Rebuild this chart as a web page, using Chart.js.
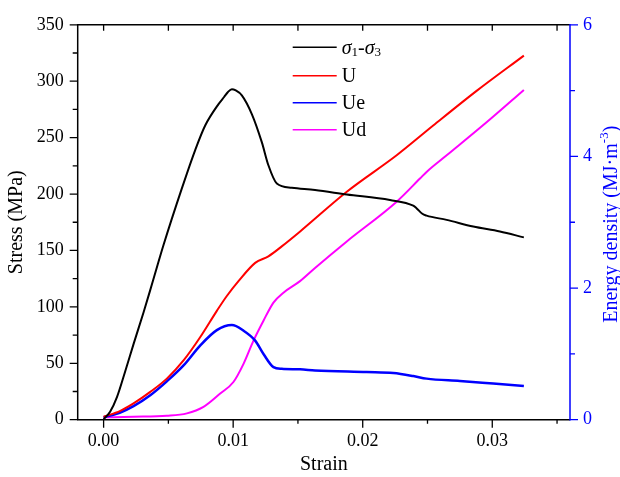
<!DOCTYPE html>
<html>
<head>
<meta charset="utf-8">
<script src="https://cdn.jsdelivr.net/npm/chart.js@4"></script>
<style>
html,body{margin:0;padding:0;background:#fff;}
#wrap{width:620px;height:477px;position:relative;}
canvas{display:block;}
</style>
</head>
<body>
<div id="wrap"><canvas id="c" width="620" height="477"></canvas></div>
<script>
// ---------- data ----------
const seriesLabels = ['σ₁-σ₃', 'U', 'Ue', 'Ud'];
const energyTitleMain = 'Energy density (MJ·m';
const energyTitleSup = '-3';
const energyTitleEnd = ')';

const stressStrain = [0, 0.0005, 0.00103, 0.00167, 0.00231, 0.00308, 0.00373, 0.00463, 0.00604, 0.00707, 0.00784, 0.00887, 0.0093, 0.0096, 0.0099, 0.0102, 0.01067, 0.01144, 0.01221, 0.01272, 0.01337, 0.01453, 0.01632, 0.01877, 0.0221, 0.0239, 0.02415, 0.0246, 0.02493, 0.02648, 0.02853, 0.03059, 0.03244];
const stressValues = [0.5, 7, 20, 43, 67, 95, 120, 155, 205, 239, 260.7, 279.7, 286, 290.5, 292.9, 291.8, 287.5, 270.9, 246, 225.5, 209.3, 205.5, 203.5, 199.6, 194.7, 189.7, 187.5, 182.5, 180.9, 177.1, 171.2, 166.8, 161.6];

const uStrain = [0, 0.00129, 0.00231, 0.0036, 0.00488, 0.00617, 0.00745, 0.00874, 0.00951, 0.01041, 0.0117, 0.01272, 0.01375, 0.01517, 0.01877, 0.02262, 0.02544, 0.02879, 0.03244];
const uValues = [0.045, 0.135, 0.247, 0.422, 0.624, 0.900, 1.252, 1.654, 1.879, 2.105, 2.383, 2.482, 2.633, 2.860, 3.463, 4.017, 4.469, 4.996, 5.532];

const ueStrain = [0, 0.00129, 0.00231, 0.0036, 0.00488, 0.00617, 0.00745, 0.00874, 0.0099, 0.0108, 0.0117, 0.01234, 0.01311, 0.01375, 0.01516, 0.01632, 0.02031, 0.02236, 0.0239, 0.02493, 0.0275, 0.03007, 0.03244];
const ueValues = [0.036, 0.110, 0.206, 0.372, 0.583, 0.825, 1.126, 1.361, 1.437, 1.353, 1.202, 0.999, 0.799, 0.773, 0.765, 0.749, 0.723, 0.708, 0.663, 0.624, 0.588, 0.549, 0.513];

const udStrain = [0, 0.00231, 0.00488, 0.00643, 0.00771, 0.009, 0.01002, 0.0108, 0.01157, 0.01234, 0.01311, 0.01388, 0.01516, 0.01632, 0.01877, 0.02262, 0.02442, 0.02493, 0.02648, 0.02956, 0.03244];
const udValues = [0.036, 0.045, 0.060, 0.096, 0.195, 0.398, 0.573, 0.849, 1.202, 1.504, 1.780, 1.930, 2.105, 2.306, 2.709, 3.312, 3.664, 3.765, 4.017, 4.519, 5.011];

const xMajorTicks = [0, 0.01, 0.02, 0.03];
const xMinorTicks = [0.005, 0.015, 0.025, 0.035];
const xTickLabels = ['0.00', '0.01', '0.02', '0.03'];
const stressTicks = [0, 50, 100, 150, 200, 250, 300, 350];
const stressMinorTicks = [25, 75, 125, 175, 225, 275, 325];
const stressTickLabels = ['0', '50', '100', '150', '200', '250', '300', '350'];
const energyTicks = [0, 2, 4, 6];
const energyMinorTicks = [1, 3, 5];
const energyTickLabels = ['0', '2', '4', '6'];

// ---------- helpers ----------
const FONT = "'Liberation Serif', 'Times New Roman', serif";
const BLUE = '#0000ff';
const pts = (xs, ys) => xs.map((x, i) => ({x: x, y: ys[i]}));

const axesPlugin = {
  id: 'axesPlugin',
  afterDraw(chart) {
    const ctx = chart.ctx;
    const a = chart.chartArea;
    const sx = chart.scales.x, sy = chart.scales.y, s1 = chart.scales.y1;
    ctx.save();
    ctx.lineWidth = 1.5;
    ctx.lineCap = 'butt';
    ctx.strokeStyle = '#000';
    ctx.beginPath();
    ctx.moveTo(a.left, a.bottom); ctx.lineTo(a.left, a.top);
    ctx.moveTo(a.left - 0.75, a.top); ctx.lineTo(a.right, a.top);
    ctx.moveTo(a.left - 0.75, a.bottom); ctx.lineTo(a.right, a.bottom);
    ctx.stroke();
    ctx.lineWidth = 1.3;
    ctx.beginPath();
    xMajorTicks.forEach(v => { const p = sx.getPixelForValue(v); ctx.moveTo(p, a.bottom); ctx.lineTo(p, a.bottom + 8); ctx.moveTo(p, a.top); ctx.lineTo(p, a.top + 6); });
    xMinorTicks.forEach(v => { const p = sx.getPixelForValue(v); ctx.moveTo(p, a.bottom); ctx.lineTo(p, a.bottom + 4); ctx.moveTo(p, a.top); ctx.lineTo(p, a.top + 6); });
    stressTicks.forEach(v => { const p = sy.getPixelForValue(v); ctx.moveTo(a.left, p); ctx.lineTo(a.left - 8, p); });
    stressMinorTicks.forEach(v => { const p = sy.getPixelForValue(v); ctx.moveTo(a.left, p); ctx.lineTo(a.left - 5, p); });
    ctx.stroke();
    ctx.strokeStyle = BLUE;
    ctx.lineWidth = 1.5;
    ctx.beginPath();
    ctx.moveTo(a.right, a.bottom + 0.75); ctx.lineTo(a.right, a.top - 0.75);
    ctx.stroke();
    ctx.lineWidth = 1.3;
    ctx.beginPath();
    energyTicks.forEach(v => { const p = s1.getPixelForValue(v); ctx.moveTo(a.right, p); ctx.lineTo(a.right + 8, p); });
    energyMinorTicks.forEach(v => { const p = s1.getPixelForValue(v); ctx.moveTo(a.right, p); ctx.lineTo(a.right + 5, p); });
    ctx.stroke();

    // right axis title, reading bottom-to-top, with superscript
    const size = 20;
    ctx.fillStyle = BLUE;
    ctx.textBaseline = 'middle';
    ctx.textAlign = 'left';
    const fMain = `${size}px ${FONT}`, fSup = `${Math.round(size * 0.65)}px ${FONT}`;
    ctx.font = fMain; const w1 = ctx.measureText(energyTitleMain).width; const w3 = ctx.measureText(energyTitleEnd).width;
    ctx.font = fSup; const w2 = ctx.measureText(energyTitleSup).width;
    const total = w1 + w2 + w3;
    ctx.translate(a.right + 41.5, (a.top + a.bottom) / 2 + 2);
    ctx.rotate(-Math.PI / 2);
    let cx = -total / 2;
    ctx.font = fMain; ctx.fillText(energyTitleMain, cx, 0); cx += w1;
    ctx.font = fSup; ctx.fillText(energyTitleSup, cx, -size * 0.33); cx += w2;
    ctx.font = fMain; ctx.fillText(energyTitleEnd, cx, 0);
    ctx.restore();
  }
};

const subMap = {'₁': '1', '₂': '2', '₃': '3'};
function drawRich(ctx, text, x, y, size) {
  let cx = x;
  for (const ch of text) {
    if (subMap[ch]) {
      ctx.font = `${Math.round(size * 0.65)}px ${FONT}`;
      ctx.fillText(subMap[ch], cx, y + size * 0.22);
      cx += ctx.measureText(subMap[ch]).width;
    } else {
      ctx.font = (ch === 'σ' ? 'italic ' : '') + `${size}px ${FONT}`;
      ctx.fillText(ch, cx, y);
      cx += ctx.measureText(ch).width;
    }
  }
}

const legendPlugin = {
  id: 'innerLegend',
  afterDatasetsDraw(chart) {
    const ctx = chart.ctx;
    const a = chart.chartArea;
    const lx0 = a.left + 215, lx1 = a.left + 259, tx = a.left + 264;
    const rows = [22.5, 51, 78, 105];
    ctx.save();
    ctx.textBaseline = 'middle';
    ctx.fillStyle = '#000';
    chart.data.datasets.forEach((ds, i) => {
      const yy = a.top + rows[i];
      ctx.strokeStyle = ds.borderColor;
      ctx.lineWidth = 1.5;
      ctx.beginPath(); ctx.moveTo(lx0, yy); ctx.lineTo(lx1, yy); ctx.stroke();
      drawRich(ctx, ds.label, tx, yy + 1, 20);
    });
    ctx.restore();
  }
};

const tickFont = {family: FONT, size: 18};
const titleFont = {family: FONT, size: 20};

new Chart(document.getElementById('c'), {
  type: 'line',
  data: {
    datasets: [
      {label: seriesLabels[0], data: pts(stressStrain, stressValues), yAxisID: 'y', borderColor: '#000000', borderWidth: 2},
      {label: seriesLabels[1], data: pts(uStrain, uValues), yAxisID: 'y1', borderColor: '#ff0000', borderWidth: 2},
      {label: seriesLabels[2], data: pts(ueStrain, ueValues), yAxisID: 'y1', borderColor: '#0000ff', borderWidth: 2.5},
      {label: seriesLabels[3], data: pts(udStrain, udValues), yAxisID: 'y1', borderColor: '#ff00ff', borderWidth: 2}
    ].map(d => Object.assign(d, {pointRadius: 0, fill: false, cubicInterpolationMode: 'monotone', tension: 0.4}))
  },
  options: {
    responsive: false,
    animation: false,
    devicePixelRatio: 1,
    layout: {padding: {top: 21.7, left: 0, right: 0, bottom: 0}},
    plugins: {legend: {display: false}, tooltip: {enabled: false}},
    scales: {
      x: {
        type: 'linear', min: -0.002, max: 0.036,
        afterBuildTicks: s => { s.ticks = xMajorTicks.map(v => ({value: v})); },
        afterFit: s => { s.height = 57.3; },
        grid: {display: false, drawTicks: false},
        border: {display: false},
        ticks: {font: tickFont, color: '#000', padding: 11, maxRotation: 0, autoSkip: false,
                callback: (v, i) => xTickLabels[i]},
        title: {display: true, text: 'Strain', font: titleFont, color: '#000', padding: {top: 0, bottom: 0}}
      },
      y: {
        type: 'linear', position: 'left', min: 0, max: 350,
        afterBuildTicks: s => { s.ticks = stressTicks.map(v => ({value: v})); },
        afterFit: s => { s.width = 77.7; },
        grid: {display: false, drawTicks: false},
        border: {display: false},
        ticks: {font: tickFont, color: '#000', padding: 14, autoSkip: false,
                callback: (v, i) => stressTickLabels[i]},
        title: {display: true, text: 'Stress (MPa)', font: titleFont, color: '#000', padding: {top: 5, bottom: 0}}
      },
      y1: {
        type: 'linear', position: 'right', min: 0, max: 6,
        afterBuildTicks: s => { s.ticks = energyTicks.map(v => ({value: v})); },
        afterFit: s => { s.width = 50; },
        grid: {display: false, drawTicks: false},
        border: {display: false},
        ticks: {font: tickFont, color: BLUE, padding: 13, autoSkip: false,
                callback: (v, i) => energyTickLabels[i]},
        title: {display: false}
      }
    }
  },
  plugins: [axesPlugin, legendPlugin]
});
</script>
</body>
</html>
